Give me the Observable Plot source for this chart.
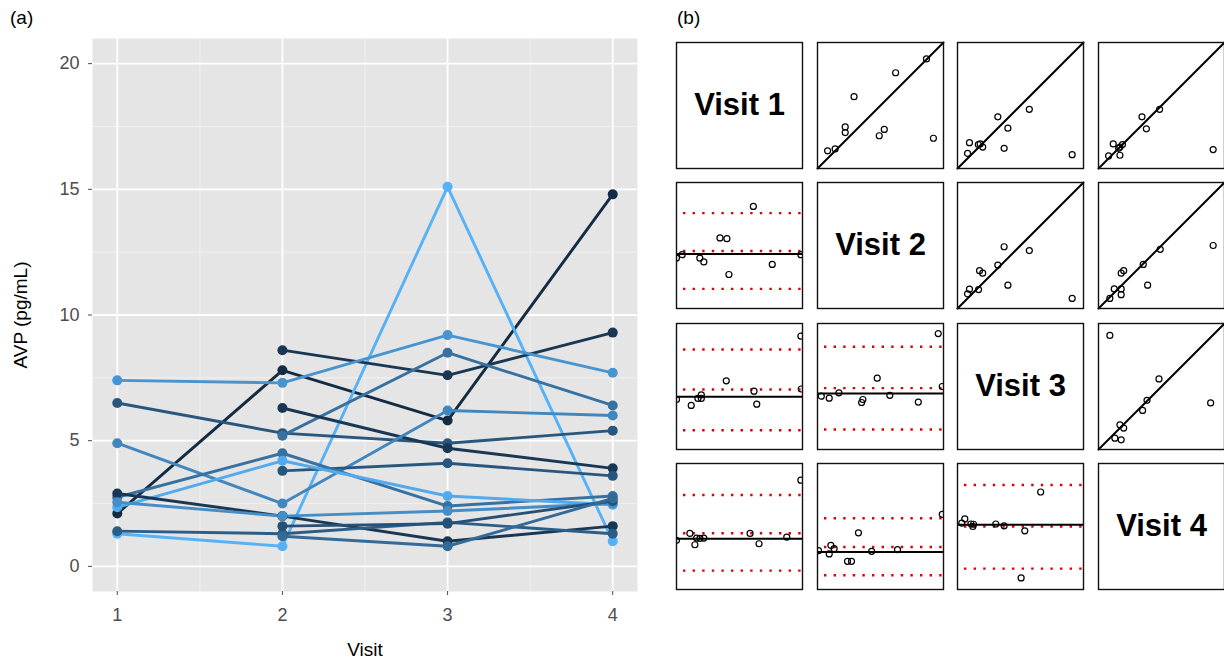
<!DOCTYPE html>
<html><head><meta charset="utf-8">
<script src="https://cdn.jsdelivr.net/npm/d3@7"></script>
<script src="https://cdn.jsdelivr.net/npm/@observablehq/plot@0.6"></script>
<style>
body{margin:0;background:#fff;font-family:"Liberation Sans",Arial,sans-serif;}
#root{position:relative;width:1224px;height:662px;overflow:hidden;background:#fff;}
.lab{position:absolute;font-size:19px;color:#000;line-height:22px;}
.cell{position:absolute;}
</style></head><body><div id="root"></div>
<script>
// ---------- Panel (a) data ----------
const visits = [1, 2, 3, 4];
const subjects = ["S01","S02","S03","S04","S05","S06","S07","S08","S09","S10","S11","S12","S13","S14","S15","S16"];
const shade =     [0.00, 1.00, 0.10, 0.80, 0.35, 0.55, 0.10, 0.70, 0.35, 0.55, 0.95, 0.10, 0.40, 0.75, 0.30, 0.50];
const avpVisit1 = [2.1, 1.3, null, 7.4, 6.5, null, null, 4.9, null, 2.75, 2.35, 2.9, 1.4, 2.55, null, null];
const avpVisit2 = [7.8, 0.8, 8.6, 7.3, 5.3, 5.2, 6.3, 2.5, 3.8, 4.5, 4.2, 2.0, 1.3, 2.0, 1.6, 1.2];
const avpVisit3 = [5.8, 15.1, 7.6, 9.2, 4.9, 8.5, 4.7, 6.2, 4.1, 2.4, 2.8, 1.0, 1.75, 2.2, 1.7, 0.8];
const avpVisit4 = [14.8, 1.0, 9.3, 7.7, 5.4, 6.4, 3.9, 6.0, 3.6, 2.8, 2.45, 1.6, 1.3, 2.5, 2.6, 2.7];
const yTicks = [0, 5, 10, 15, 20];
const yMinor = [2.5, 7.5, 12.5, 17.5];
const xMinor = [1.5, 2.5, 3.5];

// ---------- Panel (b) data (positions within each cell, 0–1) ----------
const diagLabels = ["Visit 1", "Visit 2", "Visit 3", "Visit 4"];
const identity = [0, 1];
const upper12 = [[0.08,0.14],[0.14,0.155],[0.22,0.285],[0.22,0.33],[0.29,0.57],[0.49,0.26],[0.53,0.31],[0.62,0.76],[0.865,0.87],[0.92,0.24]];
const upper13 = [[0.08,0.12],[0.095,0.205],[0.165,0.19],[0.18,0.195],[0.2,0.17],[0.32,0.41],[0.37,0.16],[0.40,0.32],[0.57,0.47],[0.91,0.11]];
const upper14 = [[0.08,0.10],[0.117,0.195],[0.16,0.16],[0.17,0.17],[0.19,0.19],[0.17,0.105],[0.345,0.41],[0.38,0.315],[0.485,0.47],[0.91,0.15]];
const upper23 = [[0.08,0.116],[0.095,0.153],[0.167,0.15],[0.175,0.30],[0.2,0.28],[0.32,0.345],[0.37,0.49],[0.40,0.185],[0.57,0.46],[0.91,0.08]];
const upper24 = [[0.09,0.08],[0.125,0.155],[0.18,0.28],[0.2,0.30],[0.18,0.155],[0.18,0.11],[0.355,0.35],[0.39,0.185],[0.49,0.47],[0.91,0.50]];
const upper34 = [[0.09,0.905],[0.13,0.09],[0.18,0.077],[0.17,0.196],[0.2,0.17],[0.35,0.31],[0.385,0.39],[0.48,0.56],[0.89,0.37]];
const lower21 = [[0,0.40],[0.045,0.427],[0.185,0.40],[0.217,0.37],[0.345,0.56],[0.40,0.554],[0.416,0.27],[0.61,0.81],[0.76,0.35],[0.987,0.427]];
const lower31 = [[0,0.397],[0.117,0.35],[0.17,0.405],[0.197,0.434],[0.197,0.405],[0.395,0.545],[0.615,0.463],[0.637,0.36],[0.987,0.9],[0.99,0.48]];
const lower32 = [[0.03,0.423],[0.093,0.407],[0.17,0.45],[0.36,0.397],[0.35,0.373],[0.474,0.566],[0.574,0.43],[0.80,0.376],[0.958,0.92],[0.99,0.5]];
const lower41 = [[0,0.39],[0.106,0.445],[0.146,0.355],[0.16,0.408],[0.186,0.405],[0.217,0.408],[0.584,0.445],[0.655,0.363],[0.875,0.416],[0.987,0.868]];
const lower42 = [[0.008,0.308],[0.106,0.35],[0.132,0.324],[0.093,0.282],[0.238,0.224],[0.27,0.224],[0.325,0.45],[0.43,0.303],[0.635,0.316],[0.99,0.597]];
const lower43 = [[0.034,0.526],[0.058,0.56],[0.106,0.52],[0.122,0.5],[0.127,0.518],[0.304,0.52],[0.37,0.505],[0.534,0.466],[0.66,0.774],[0.505,0.092]];
const lowerCentre = [0.433, 0.418, 0.444, 0.403, 0.297, 0.513];
const lowerUpperLimit = [0.757, 0.794, 0.815, 0.75, 0.566, 0.829];
const lowerMeanDiff = [0.456, 0.476, 0.487, 0.447, 0.337, 0.5];
const lowerLowerLimit = [0.156, 0.153, 0.159, 0.15, 0.113, 0.166];

const root = document.getElementById("root");
const FONT = "'Liberation Sans', Arial, sans-serif";

// ---------- Panel (a) ----------
const avpByVisit = [avpVisit1, avpVisit2, avpVisit3, avpVisit4];
const rows = [];
subjects.forEach((s, i) => {
  avpByVisit.forEach((arr, j) => {
    if (arr[i] != null) rows.push({subject: s, shade: shade[i], visit: visits[j], avp: arr[i]});
  });
});

const plotA = Plot.plot({
  width: 660, height: 662,
  marginLeft: 92, marginRight: 23, marginTop: 38, marginBottom: 71,
  style: {fontFamily: FONT, fontSize: "18px", background: "transparent", overflow: "visible"},
  x: {domain: [0.85, 4.15]},
  y: {domain: [-1, 21]},
  color: {type: "linear", domain: [0, 1], range: ["#132B43", "#56B1F7"], interpolate: "lab"},
  marks: [
    Plot.frame({fill: "#E5E5E5", stroke: null}),
    Plot.ruleY(yMinor, {stroke: "#F2F2F2", strokeWidth: 0.9}),
    Plot.ruleX(xMinor, {stroke: "#F2F2F2", strokeWidth: 0.9}),
    Plot.ruleY(yTicks, {stroke: "#fff", strokeWidth: 1.8}),
    Plot.ruleX(visits, {stroke: "#fff", strokeWidth: 1.8}),
    Plot.axisX({ticks: visits, tickFormat: "d", tickSize: 4, tickPadding: 13, color: "#4d4d4d", label: null, fontSize: 18}),
    Plot.axisY({ticks: yTicks, tickFormat: "d", tickSize: 4, tickPadding: 9, color: "#4d4d4d", label: null, fontSize: 18}),
    Plot.line(rows, {x: "visit", y: "avp", z: "subject", stroke: "shade", strokeWidth: 2.9}),
    Plot.dot(rows, {x: "visit", y: "avp", fill: "shade", r: 5}),
    Plot.text(["Visit"], {frameAnchor: "bottom", lineAnchor: "middle", textAnchor: "middle", dy: 58, fontSize: 19, fill: "#000"}),
    Plot.text(["AVP (pg/mL)"], {frameAnchor: "left", lineAnchor: "middle", textAnchor: "middle", dx: -72, rotate: -90, fontSize: 19, fill: "#000"})
  ]
});
plotA.style.position = "absolute";
plotA.style.left = "0px";
plotA.style.top = "0px";
root.appendChild(plotA);

function addLabel(txt, x, y) {
  const d = document.createElement("div");
  d.className = "lab"; d.textContent = txt;
  d.style.left = x + "px"; d.style.top = y + "px";
  root.appendChild(d);
}
addLabel("(a)", 10, 7);
addLabel("(b)", 677, 7);

// ---------- Panel (b) ----------
const upperPanels = [
  {row: 0, col: 1, pts: upper12}, {row: 0, col: 2, pts: upper13}, {row: 0, col: 3, pts: upper14},
  {row: 1, col: 2, pts: upper23}, {row: 1, col: 3, pts: upper24}, {row: 2, col: 3, pts: upper34}
];
const lowerDefs = [[1,0,lower21],[2,0,lower31],[2,1,lower32],[3,0,lower41],[3,1,lower42],[3,2,lower43]];
const lowerPanels = lowerDefs.map(([row, col, pts], k) => ({
  row, col, pts, centre: lowerCentre[k],
  limits: [lowerUpperLimit[k], lowerMeanDiff[k], lowerLowerLimit[k]]
}));

const CELL = 126, PITCH = 140.6, LEFT0 = 676, TOP0 = 41.5;
function cellPlot(marks) {
  return Plot.plot({
    width: CELL + 2, height: CELL + 2, margin: 1,
    style: {background: "transparent", overflow: "visible", fontFamily: FONT},
    x: {domain: [0, 1], axis: null},
    y: {domain: [0, 1], axis: null},
    marks: [...marks, Plot.frame({stroke: "#111", strokeWidth: 1.4})]
  });
}
function place(svg, row, col) {
  svg.classList.add("cell");
  svg.style.position = "absolute";
  svg.style.left = Math.round(LEFT0 + col * PITCH - 1) + "px";
  svg.style.top = Math.round(TOP0 + row * PITCH - 1) + "px";
  root.appendChild(svg);
}

diagLabels.forEach((lab, i) => {
  place(cellPlot([
    Plot.text([lab], {frameAnchor: "middle", fontSize: 31, fontWeight: "bold", fill: "#000", fontFamily: FONT})
  ]), i, i);
});

upperPanels.forEach(p => {
  place(cellPlot([
    Plot.line(identity, {x: d => d, y: d => d, stroke: "#000", strokeWidth: 2}),
    Plot.dot(p.pts, {x: d => d[0], y: d => d[1], r: 3, stroke: "#000", strokeWidth: 1.2, fill: "none", clip: true})
  ]), p.row, p.col);
});

lowerPanels.forEach(p => {
  place(cellPlot([
    Plot.ruleY(p.limits, {stroke: "#e00000", strokeWidth: 2.4, strokeDasharray: "2.4 7.2", strokeDashoffset: -7}),
    Plot.ruleY([p.centre], {stroke: "#000", strokeWidth: 2}),
    Plot.dot(p.pts, {x: d => d[0], y: d => d[1], r: 3, stroke: "#000", strokeWidth: 1.2, fill: "none", clip: true})
  ]), p.row, p.col);
});
</script>
</body></html>
